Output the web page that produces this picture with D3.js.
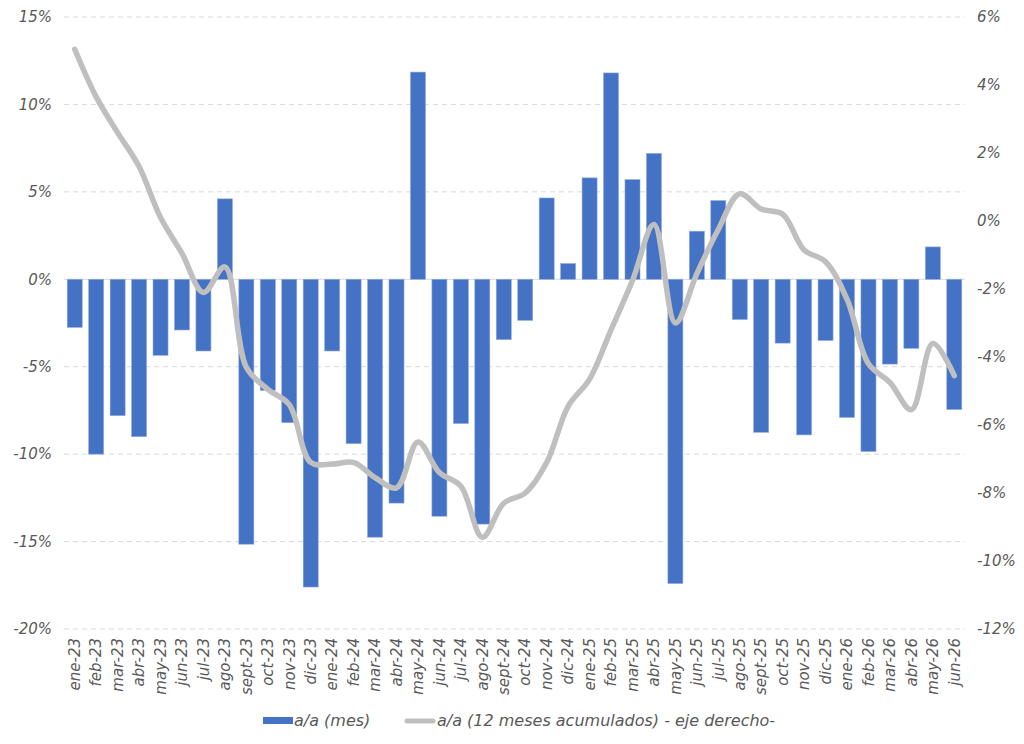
<html>
<head>
    <title>a/a mensual y acumulado</title>
    <script src="https://d3js.org/d3.v7.min.js"></script>
    <style>
        body { margin: 0; background-color: white; font-family: "DejaVu Sans", sans-serif; }
        svg text { font-style: italic; fill: #595959; font-family: "DejaVu Sans", sans-serif; }
    </style>
</head>
<body>
    <svg id="chart" width="1024" height="744"></svg>

    <script>
        // data
        const months = ["ene-23","feb-23","mar-23","abr-23","may-23","jun-23","jul-23","ago-23","sept-23","oct-23","nov-23","dic-23",
                        "ene-24","feb-24","mar-24","abr-24","may-24","jun-24","jul-24","ago-24","sept-24","oct-24","nov-24","dic-24",
                        "ene-25","feb-25","mar-25","abr-25","may-25","jun-25","jul-25","ago-25","sept-25","oct-25","nov-25","dic-25",
                        "ene-26","feb-26","mar-26","abr-26","may-26","jun-26"];
        const monthly = [-2.75,-10.0,-7.8,-9.0,-4.35,-2.9,-4.1,4.6,-15.15,-6.35,-8.2,-17.6,
                         -4.1,-9.4,-14.75,-12.8,11.85,-13.55,-8.25,-14.0,-3.45,-2.35,4.65,0.9,
                         5.8,11.8,5.7,7.2,-17.4,2.75,4.5,-2.3,-8.75,-3.65,-8.9,-3.5,
                         -7.9,-9.85,-4.85,-3.95,1.85,-7.45];
        const cumulative = [5.05,3.65,2.6,1.6,0.1,-0.95,-2.1,-1.35,-4.3,-4.95,-5.4,-7.1,
                            -7.15,-7.1,-7.55,-7.85,-6.5,-7.4,-7.8,-9.3,-8.3,-8.0,-7.1,-5.45,
                            -4.65,-3.2,-1.75,-0.1,-3.0,-1.55,-0.25,0.8,0.35,0.2,-0.85,-1.2,
                            -2.3,-4.2,-4.75,-5.55,-3.6,-4.55];
        const leftTicks = [15,10,5,0,-5,-10,-15,-20];
        const rightTicks = [6,4,2,0,-2,-4,-6,-8,-10,-12];
        const legendLabels = ["a/a (mes)", "a/a (12 meses acumulados) - eje derecho-"];

        const plot = { left: 64, right: 965, top: 17, bottom: 629 };
        const svg = d3.select("#chart");

        const x = d3.scaleBand().domain(months).range([plot.left, plot.right]).paddingInner(0.3).paddingOuter(0.15);
        const yL = d3.scaleLinear().domain([-20, 15]).range([plot.bottom, plot.top]);
        const yR = d3.scaleLinear().domain([-12, 6]).range([plot.bottom, plot.top]);

        // gridlines
        svg.append("g").selectAll("line").data(leftTicks).enter().append("line")
            .attr("x1", plot.left).attr("x2", plot.right)
            .attr("y1", d => yL(d)).attr("y2", d => yL(d))
            .attr("stroke", "#d9d9d9").attr("stroke-width", 1)
            .attr("stroke-dasharray", d => d === 0 ? null : "5,4");

        // left axis
        const axL = svg.append("g").attr("transform", "translate(" + plot.left + ",0)")
            .call(d3.axisLeft(yL).tickValues(leftTicks).tickSize(0).tickPadding(12).tickFormat(d => d + "%"));
        axL.select(".domain").remove();
        axL.selectAll("text").style("font-size", "15px").style("font-family", "DejaVu Sans, sans-serif");

        // right axis
        const axR = svg.append("g").attr("transform", "translate(" + plot.right + ",0)")
            .call(d3.axisRight(yR).tickValues(rightTicks).tickSize(0).tickPadding(12).tickFormat(d => d + "%"));
        axR.select(".domain").remove();
        axR.selectAll("text").style("font-size", "15px").style("font-family", "DejaVu Sans, sans-serif");

        // bars
        svg.append("g").selectAll("rect").data(monthly).enter().append("rect")
            .attr("x", (d, i) => x(months[i]))
            .attr("y", d => yL(Math.max(0, d)))
            .attr("width", x.bandwidth())
            .attr("height", d => Math.abs(yL(d) - yL(0)))
            .attr("fill", "#4472c4")
            .attr("stroke", "#8faadc").attr("stroke-width", 0.6);

        // cumulative line
        const line = d3.line()
            .x((d, i) => x(months[i]) + x.bandwidth() / 2)
            .y(d => yR(d))
            .curve(d3.curveCatmullRom.alpha(0.5));
        svg.append("path").datum(cumulative)
            .attr("d", line)
            .attr("fill", "none")
            .attr("stroke", "#bfbfbf")
            .attr("stroke-width", 5.5)
            .attr("stroke-linecap", "round")
            .attr("stroke-linejoin", "round");

        // x labels
        const axX = svg.append("g").attr("transform", "translate(0," + (plot.bottom + 9) + ")")
            .call(d3.axisBottom(x).tickSize(0).tickPadding(0));
        axX.select(".domain").remove();
        axX.selectAll("text")
            .attr("transform", "rotate(-90)")
            .attr("x", 0).attr("y", 0).attr("dy", "0.35em")
            .style("text-anchor", "end")
            .style("font-size", "15px").style("font-family", "DejaVu Sans, sans-serif");

        // legend
        const lg = svg.append("g");
        lg.append("rect").attr("x", 263).attr("y", 717).attr("width", 30).attr("height", 7).attr("fill", "#4472c4");
        lg.append("text").attr("x", 294).attr("y", 726).text(legendLabels[0]).style("font-size", "16px");
        lg.append("line").attr("x1", 407).attr("x2", 433).attr("y1", 721).attr("y2", 721)
            .attr("stroke", "#bfbfbf").attr("stroke-width", 5).attr("stroke-linecap", "round");
        lg.append("text").attr("x", 437).attr("y", 726).text(legendLabels[1]).style("font-size", "16px");
    </script>
</body>
</html>
